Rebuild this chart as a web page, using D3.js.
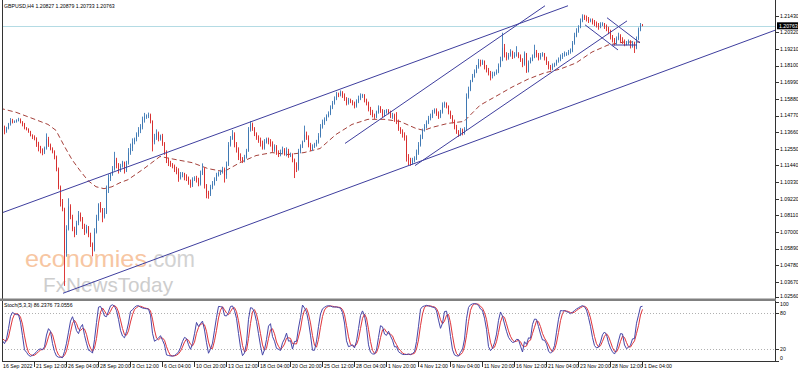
<!DOCTYPE html>
<html><head><meta charset="utf-8">
<script src="https://cdn.jsdelivr.net/npm/d3@7"></script>
<style>body{margin:0;background:#fff}svg{display:block}text{font-family:"Liberation Sans",Arial,sans-serif}</style>
</head><body><svg id="chart" width="798" height="372"></svg>
<script>
var symbolTitle = "GBPUSD,H4  1.20827 1.20879 1.20733 1.20763";
var stochTitle = "Stoch(5,3,3) 86.2376 73.0556";
var firstOpen = 1.1420;
var currentPrice = 1.20763;

var closes = [
1.1412,1.1405,
1.1372,1.1395,1.1420,1.1442,1.1436,1.1437,
1.1445,1.1450,1.1432,1.1420,1.1395,1.1385,
1.1370,1.1345,1.1335,1.1325,1.1290,1.1270,
1.1250,1.1230,1.1260,1.1320,1.1280,1.1255,
1.1235,1.1200,1.1120,1.1000,1.0900,1.0855,
1.0560,1.0720,1.0870,1.0800,1.0720,1.0690,
1.0760,1.0815,1.0790,1.0740,1.0700,1.0733,
1.0680,1.0620,1.0580,1.0700,1.0790,1.0885,
1.0850,1.0800,1.0830,1.0980,1.1060,1.1085,
1.1120,1.1180,1.1150,1.1110,1.1140,1.1165,
1.1110,1.1160,1.1230,1.1260,1.1300,1.1320,
1.1350,1.1380,1.1400,1.1450,1.1470,1.1475,
1.1480,1.1440,1.1300,1.1330,1.1360,1.1320,
1.1340,1.1290,1.1230,1.1180,1.1160,1.1150,
1.1140,1.1120,1.1100,1.1060,1.1080,1.1090,
1.1070,1.1060,1.1030,1.1010,1.1050,1.1060,
1.1050,1.1020,1.1090,1.1120,1.1010,1.0960,
1.0950,1.1000,1.1020,1.1050,1.1080,1.1095,
1.1100,1.1120,1.1080,1.1150,1.1280,1.1320,
1.1350,1.1280,1.1250,1.1200,1.1190,1.1175,
1.1200,1.1240,1.1380,1.1420,1.1390,1.1355,
1.1330,1.1310,1.1290,1.1260,1.1300,1.1320,
1.1300,1.1290,1.1250,1.1270,1.1230,1.1215,
1.1230,1.1250,1.1220,1.1240,1.1210,1.1215,
1.1180,1.1150,1.1120,1.1240,1.1270,1.1300,
1.1350,1.1330,1.1280,1.1250,1.1270,1.1285,
1.1300,1.1340,1.1400,1.1430,1.1450,1.1475,
1.1490,1.1530,1.1560,1.1590,1.1620,1.1615,
1.1630,1.1610,1.1590,1.1560,1.1580,1.1570,
1.1560,1.1540,1.1570,1.1590,1.1610,1.1615,
1.1580,1.1560,1.1520,1.1500,1.1480,1.1470,
1.1500,1.1530,1.1510,1.1480,1.1500,1.1510,
1.1500,1.1470,1.1480,1.1450,1.1440,1.1390,
1.1370,1.1350,1.1330,1.1200,1.1180,1.1160,
1.1180,1.1190,1.1230,1.1280,1.1330,1.1380,
1.1400,1.1430,1.1460,1.1470,1.1500,1.1515,
1.1490,1.1470,1.1500,1.1550,1.1560,1.1540,
1.1500,1.1470,1.1440,1.1400,1.1370,1.1350,
1.1380,1.1360,1.1390,1.1600,1.1650,1.1705,
1.1740,1.1770,1.1800,1.1830,1.1820,1.1840,
1.1800,1.1780,1.1760,1.1740,1.1750,1.1760,
1.1770,1.1810,1.1850,1.1930,1.1880,1.1860,
1.1880,1.1900,1.1870,1.1880,1.1890,1.1870,
1.1850,1.1820,1.1890,1.1770,1.1830,1.1850,
1.1870,1.1900,1.1880,1.1860,1.1880,1.1890,
1.1860,1.1830,1.1800,1.1790,1.1810,1.1820,
1.1840,1.1850,1.1870,1.1880,1.1890,1.1890,
1.1900,1.1910,1.1960,1.2010,1.2040,1.2065,
1.2110,1.2140,1.2130,1.2120,1.2110,1.2115,
1.2100,1.2090,1.2080,1.2070,1.2085,1.2090,
1.2070,1.2060,1.2040,1.2000,1.1980,1.1960,
1.1990,1.2010,1.1980,1.1970,1.1950,1.1960,
1.1970,1.1940,1.1960,1.1930,1.1990,1.2050,
1.2083,1.20763];

var highs = [
1.1432,1.1425,
1.1410,1.1402,1.1428,1.1460,1.1455,1.1445,
1.1452,1.1462,1.1458,1.1440,1.1428,1.1400,
1.1392,1.1375,1.1352,1.1345,1.1332,1.1302,
1.1275,1.1258,1.1270,1.1358,1.1335,1.1290,
1.1265,1.1245,1.1210,1.1130,1.1010,1.0920,
1.0862,1.0745,1.0925,1.0885,1.0815,1.0735,
1.0775,1.0840,1.0830,1.0800,1.0755,1.0748,
1.0740,1.0695,1.0630,1.0725,1.0815,1.0892,
1.0900,1.0860,1.0860,1.1010,1.1085,1.1095,
1.1140,1.1235,1.1195,1.1160,1.1155,1.1175,
1.1170,1.1175,1.1260,1.1290,1.1325,1.1330,
1.1365,1.1400,1.1420,1.1470,1.1495,1.1485,
1.1497,1.1490,1.1445,1.1355,1.1385,1.1370,
1.1350,1.1355,1.1300,1.1245,1.1195,1.1175,
1.1160,1.1150,1.1135,1.1125,1.1100,1.1100,
1.1095,1.1085,1.1070,1.1050,1.1065,1.1072,
1.1075,1.1062,1.1110,1.1158,1.1130,1.1020,
1.0975,1.1015,1.1040,1.1065,1.1095,1.1105,
1.1115,1.1135,1.1130,1.1170,1.1300,1.1340,
1.1380,1.1365,1.1300,1.1265,1.1225,1.1200,
1.1215,1.1255,1.1400,1.1440,1.1430,1.1400,
1.1365,1.1345,1.1330,1.1310,1.1320,1.1330,
1.1330,1.1320,1.1305,1.1285,1.1280,1.1245,
1.1250,1.1270,1.1260,1.1265,1.1255,1.1230,
1.1225,1.1190,1.1165,1.1255,1.1285,1.1310,
1.1410,1.1370,1.1345,1.1295,1.1285,1.1295,
1.1315,1.1360,1.1420,1.1450,1.1465,1.1485,
1.1505,1.1545,1.1575,1.1605,1.1635,1.1630,
1.1645,1.1640,1.1625,1.1600,1.1595,1.1590,
1.1580,1.1570,1.1585,1.1610,1.1625,1.1622,
1.1620,1.1590,1.1570,1.1535,1.1515,1.1490,
1.1510,1.1545,1.1540,1.1520,1.1515,1.1520,
1.1520,1.1510,1.1495,1.1490,1.1500,1.1450,
1.1400,1.1385,1.1365,1.1345,1.1220,1.1195,
1.1195,1.1205,1.1250,1.1300,1.1350,1.1390,
1.1420,1.1445,1.1475,1.1490,1.1515,1.1525,
1.1525,1.1505,1.1515,1.1565,1.1570,1.1565,
1.1545,1.1510,1.1480,1.1450,1.1415,1.1380,
1.1395,1.1390,1.1400,1.1625,1.1670,1.1715,
1.1755,1.1785,1.1815,1.1855,1.1850,1.1850,
1.1845,1.1815,1.1795,1.1775,1.1770,1.1770,
1.1785,1.1825,1.1870,1.2030,1.1955,1.1900,
1.1895,1.1920,1.1910,1.1900,1.1940,1.1900,
1.1885,1.1860,1.1905,1.1895,1.1845,1.1865,
1.1885,1.1950,1.1915,1.1895,1.1895,1.1900,
1.1895,1.1870,1.1840,1.1815,1.1825,1.1830,
1.1850,1.1865,1.1885,1.1895,1.1905,1.1900,
1.1915,1.1925,1.1975,1.2030,1.2060,1.2080,
1.2125,1.2153,1.2150,1.2145,1.2135,1.2125,
1.2125,1.2115,1.2105,1.2095,1.2100,1.2100,
1.2095,1.2085,1.2070,1.2050,1.2015,1.1995,
1.2005,1.2030,1.2020,1.2000,1.1985,1.1975,
1.1985,1.1980,1.1975,1.1970,1.2005,1.2065,
1.2095,1.20879];

var lows = [
1.1398,1.1395,
1.1352,1.1362,1.1385,1.1410,1.1425,1.1428,
1.1430,1.1438,1.1425,1.1405,1.1385,1.1378,
1.1362,1.1338,1.1320,1.1312,1.1268,1.1238,
1.1225,1.1212,1.1220,1.1250,1.1268,1.1245,
1.1225,1.1185,1.1105,1.0985,1.0870,1.0838,
1.0340,1.0535,1.0710,1.0785,1.0705,1.0665,
1.0680,1.0745,1.0770,1.0720,1.0680,1.0690,
1.0665,1.0600,1.0538,1.0570,1.0690,1.0775,
1.0830,1.0765,1.0790,1.0820,1.0960,1.1040,
1.1075,1.1110,1.1125,1.1090,1.1100,1.1130,
1.1090,1.1100,1.1150,1.1215,1.1240,1.1285,
1.1305,1.1335,1.1360,1.1385,1.1430,1.1455,
1.1460,1.1425,1.1238,1.1285,1.1315,1.1305,
1.1310,1.1275,1.1215,1.1160,1.1140,1.1135,
1.1125,1.1100,1.1085,1.1035,1.1050,1.1065,
1.1045,1.1040,1.1015,1.0995,1.1000,1.1040,
1.1030,1.1005,1.1010,1.1080,1.0990,1.0925,
1.0922,1.0940,1.0985,1.1010,1.1040,1.1070,
1.1080,1.1090,1.1030,1.1055,1.1140,1.1270,
1.1315,1.1265,1.1230,1.1180,1.1170,1.1160,
1.1165,1.1190,1.1235,1.1370,1.1375,1.1340,
1.1315,1.1295,1.1270,1.1250,1.1250,1.1290,
1.1285,1.1270,1.1235,1.1235,1.1215,1.1200,
1.1205,1.1220,1.1210,1.1205,1.1195,1.1200,
1.1165,1.1060,1.1100,1.1110,1.1225,1.1260,
1.1300,1.1315,1.1265,1.1240,1.1240,1.1260,
1.1270,1.1290,1.1330,1.1390,1.1415,1.1440,
1.1465,1.1480,1.1520,1.1550,1.1580,1.1600,
1.1605,1.1595,1.1575,1.1545,1.1550,1.1560,
1.1545,1.1525,1.1530,1.1560,1.1580,1.1595,
1.1565,1.1545,1.1505,1.1480,1.1465,1.1455,
1.1460,1.1490,1.1495,1.1465,1.1470,1.1490,
1.1485,1.1460,1.1455,1.1435,1.1420,1.1375,
1.1355,1.1330,1.1310,1.1170,1.1145,1.1142,
1.1150,1.1165,1.1180,1.1215,1.1270,1.1320,
1.1370,1.1390,1.1420,1.1445,1.1460,1.1490,
1.1475,1.1455,1.1460,1.1490,1.1530,1.1525,
1.1485,1.1455,1.1425,1.1385,1.1355,1.1335,
1.1340,1.1345,1.1350,1.1380,1.1590,1.1640,
1.1700,1.1730,1.1760,1.1790,1.1805,1.1815,
1.1785,1.1765,1.1745,1.1712,1.1725,1.1740,
1.1750,1.1760,1.1800,1.1840,1.1865,1.1845,
1.1850,1.1870,1.1855,1.1860,1.1870,1.1860,
1.1835,1.1800,1.1810,1.1762,1.1765,1.1825,
1.1840,1.1860,1.1865,1.1845,1.1850,1.1870,
1.1845,1.1815,1.1785,1.1778,1.1780,1.1800,
1.1810,1.1830,1.1840,1.1855,1.1870,1.1875,
1.1880,1.1890,1.1900,1.1950,1.2000,1.2030,
1.2060,1.2100,1.2115,1.2105,1.2095,1.2100,
1.2085,1.2075,1.2065,1.2050,1.2060,1.2075,
1.2055,1.2040,1.2020,1.1985,1.1965,1.1945,
1.1950,1.1980,1.1965,1.1955,1.1940,1.1945,
1.1950,1.1925,1.1930,1.1895,1.1920,1.1980,
1.2040,1.20733];

var priceTicks = [1.21430,1.20320,1.19210,1.18100,1.16990,1.15880,1.14770,1.13660,1.12550,
  1.11440,1.10330,1.09220,1.08110,1.07000,1.05890,1.04780,1.03670,1.02560];

var dateLabels = ["16 Sep 2022","21 Sep 12:00","26 Sep 04:00","28 Sep 20:00","3 Oct 12:00","6 Oct 04:00",
  "10 Oct 20:00","13 Oct 12:00","18 Oct 04:00","20 Oct 20:00","25 Oct 12:00","28 Oct 04:00",
  "1 Nov 20:00","4 Nov 12:00","9 Nov 04:00","11 Nov 20:00","16 Nov 12:00","21 Nov 04:00",
  "23 Nov 20:00","28 Nov 12:00","1 Dec 04:00"];

var maBars = [0,8,16,24,28,32,36,40,44,48,52,56,60,64,72,80,88,96,104,112,120,128,136,144,152,160,
  168,176,184,192,200,208,212,216,224,232,240,248,256,264,272,280,288,296,304,312,320];
var maValues = [1.1526,1.1499,1.1459,1.1418,1.1378,1.1277,1.1183,1.1110,1.1043,1.1002,1.0989,1.1002,
  1.1029,1.1049,1.1123,1.1204,1.1183,1.1163,1.1123,1.1103,1.1163,1.1210,1.1230,1.1217,1.1230,1.1257,
  1.1351,1.1418,1.1452,1.1452,1.1438,1.1391,1.1378,1.1398,1.1425,1.1438,1.1546,1.1606,1.1667,1.1720,
  1.1761,1.1787,1.1828,1.1901,1.1948,1.1968,1.1968];

// trend lines: [bar, price, bar, price]
var trendLines = [
  [1,1.0828,284,1.2210],
  [31.5,1.0291,388,1.2049],
  [172.5,1.1291,272.5,1.2210],
  [207.5,1.1143,313.5,1.2109],
  [292.5,1.2083,309,1.1915],
  [303.5,1.2130,320,1.1962],
  [306,1.1948,318.5,1.1948]];

var stochTicks = [100,80,20,0];
var stochLevels = [80,20];

var svg = d3.select("#chart");
var x = d3.scaleLinear().domain([0,388]).range([0,776]);
var y = d3.scaleLinear().domain([1.0256,1.2143]).range([298.5,15.8]);
var ys = d3.scaleLinear().domain([0,100]).range([361,301.5]);

var bars = closes.map(function(c,i){
  var o = i === 0 ? firstOpen : closes[i-1];
  return {i:i, o:o, c:c, h:Math.max(highs[i],o,c), l:Math.min(lows[i],o,c)};
});

var t = new Date(2022,8,16,16);
var barTimes = bars.map(function(){
  var cur = t;
  var n = new Date(t.getTime()+4*3600*1000);
  while(n.getDay()===0 || n.getDay()===6) n = new Date(n.getTime()+4*3600*1000);
  t = n;
  return cur;
});
var fmt = d3.timeFormat("%-d %b %H:%M");

var defs = svg.append("defs");
defs.append("clipPath").attr("id","mainClip").append("rect").attr("x",2).attr("y",0).attr("width",774).attr("height",298);
defs.append("clipPath").attr("id","stochClip").append("rect").attr("x",2).attr("y",302).attr("width",774).attr("height",59);

var main = svg.append("g").attr("clip-path","url(#mainClip)");

main.append("text").attr("x",25).attr("y",267).attr("font-size",24).attr("fill","#f7c6a2")
  .attr("textLength",122).attr("lengthAdjust","spacingAndGlyphs").text("economies");
main.append("text").attr("x",147).attr("y",267).attr("font-size",24).attr("fill","#d2d2d2")
  .attr("textLength",48).attr("lengthAdjust","spacingAndGlyphs").text(".com");
main.append("text").attr("x",43).attr("y",292).attr("font-size",21).attr("fill","#cdcdcd")
  .attr("textLength",130).attr("lengthAdjust","spacingAndGlyphs").text("FxNewsToday");

main.append("line").attr("x1",2).attr("x2",776).attr("y1",Math.round(y(currentPrice))+0.5).attr("y2",Math.round(y(currentPrice))+0.5)
  .attr("stroke","#b4dbe4").attr("stroke-width",1);

main.append("path").datum(maBars.map(function(b,k){return [b,maValues[k]];}))
  .attr("fill","none").attr("stroke","#a5413b").attr("stroke-width",1).attr("stroke-dasharray","5,3")
  .attr("d",d3.line().x(function(d){return x(d[0]);}).y(function(d){return y(d[1]);}));

var cg = main.append("g");
cg.selectAll("line.wick").data(bars).enter().append("line").attr("class","wick")
  .attr("x1",function(d){return x(d.i)+0.5;}).attr("x2",function(d){return x(d.i)+0.5;})
  .attr("y1",function(d){return y(d.h);}).attr("y2",function(d){return y(d.l);})
  .attr("stroke",function(d){return d.c>=d.o ? "#4f86bd" : "#de3b3b";}).attr("stroke-width",1);
cg.selectAll("rect.body").data(bars).enter().append("rect").attr("class","body")
  .attr("x",function(d){return x(d.i);}).attr("width",1)
  .attr("y",function(d){return y(Math.max(d.o,d.c));})
  .attr("height",function(d){return Math.max(1,Math.abs(y(d.o)-y(d.c)));})
  .attr("fill",function(d){return d.c>=d.o ? "#3f78b2" : "#d62f2f";});

main.selectAll("line.trend").data(trendLines).enter().append("line").attr("class","trend")
  .attr("x1",function(d){return x(d[0]);}).attr("y1",function(d){return y(d[1]);})
  .attr("x2",function(d){return x(d[2]);}).attr("y2",function(d){return y(d[3]);})
  .attr("stroke","#3e3e9e").attr("stroke-width",1);

svg.append("text").attr("x",4).attr("y",7.5).attr("font-size",5.2).attr("fill","#000").text(symbolTitle);

var kRaw = bars.map(function(d,i){
  var s = Math.max(0,i-4);
  var hh = d3.max(bars.slice(s,i+1),function(e){return e.h;});
  var ll = d3.min(bars.slice(s,i+1),function(e){return e.l;});
  return {num:d.c-ll, den:hh-ll};
});
var stochMain = kRaw.map(function(d,i){
  var w = kRaw.slice(Math.max(0,i-2),i+1);
  var den = d3.sum(w,function(e){return e.den;});
  return den ? 100*d3.sum(w,function(e){return e.num;})/den : 50;
});
var stochSignal = stochMain.map(function(v,i){
  return d3.mean(stochMain.slice(Math.max(0,i-2),i+1));
});

var sg = svg.append("g").attr("clip-path","url(#stochClip)");
sg.selectAll("line.level").data(stochLevels).enter().append("line").attr("class","level")
  .attr("x1",2).attr("x2",776).attr("y1",function(d){return Math.round(ys(d))+0.5;}).attr("y2",function(d){return Math.round(ys(d))+0.5;})
  .attr("stroke","#b0b0b0").attr("stroke-dasharray","1,2");
var sline = d3.line().x(function(d,i){return x(i)+0.5;}).y(function(d){return ys(d);});
sg.append("path").datum(stochSignal).attr("fill","none").attr("stroke","#e0343a").attr("stroke-width",1).attr("d",sline);
sg.append("path").datum(stochMain).attr("fill","none").attr("stroke","#4646a8").attr("stroke-width",1).attr("d",sline);
svg.append("text").attr("x",4).attr("y",307).attr("font-size",5.2).attr("fill","#000").text(stochTitle);

svg.append("line").attr("x1",2.5).attr("x2",2.5).attr("y1",0).attr("y2",361).attr("stroke","#333");
svg.append("line").attr("x1",775.5).attr("x2",775.5).attr("y1",0).attr("y2",361).attr("stroke","#333");
svg.append("rect").attr("x",0).attr("y",298.5).attr("width",776).attr("height",2.5).attr("fill","#808080");
svg.append("line").attr("x1",2).attr("x2",776).attr("y1",361.5).attr("y2",361.5).attr("stroke","#333");

var ax = svg.append("g");
ax.selectAll("line.pt").data(priceTicks).enter().append("line").attr("class","pt")
  .attr("x1",776).attr("x2",779).attr("y1",function(d){return Math.round(Math.min(y(d),297))+0.5;})
  .attr("y2",function(d){return Math.round(Math.min(y(d),297))+0.5;}).attr("stroke","#333");
ax.selectAll("text.pt").data(priceTicks).enter().append("text").attr("class","pt")
  .attr("x",780).attr("y",function(d){return Math.min(y(d),296.5)+1.8;})
  .attr("font-size",5.2).attr("fill","#000").text(function(d){return d.toFixed(5);});

var cy = y(currentPrice);
ax.append("rect").attr("x",777).attr("y",cy-3.5).attr("width",21).attr("height",7).attr("fill","#000");
ax.append("text").attr("x",779).attr("y",cy+1.9).attr("font-size",5.2).attr("fill","#fff").text(currentPrice.toFixed(5));

ax.selectAll("line.st").data(stochTicks).enter().append("line").attr("class","st")
  .attr("x1",776).attr("x2",779).attr("y1",function(d){return Math.round(ys(d))+0.5;}).attr("y2",function(d){return Math.round(ys(d))+0.5;}).attr("stroke","#333");
ax.selectAll("text.st").data(stochTicks).enter().append("text").attr("class","st")
  .attr("x",780).attr("y",function(d){return Math.max(304,Math.min(ys(d),358))+1.8;})
  .attr("font-size",5.2).attr("fill","#000").text(function(d){return d;});

var dateIdx = dateLabels.map(function(lab,k){
  if(k===0) return 0;
  for(var i=0;i<barTimes.length;i++){ if(fmt(barTimes[i])===lab) return i; }
  return -1;
});
dateLabels.forEach(function(lab,k){
  var bi = dateIdx[k];
  if(bi<0) return;
  var px = k===0 ? 3 : x(bi);
  if(k>0) ax.append("line").attr("x1",Math.round(px)+0.5).attr("x2",Math.round(px)+0.5).attr("y1",362).attr("y2",367).attr("stroke","#333");
  ax.append("text").attr("x",k===0 ? px : px+2).attr("y",368).attr("font-size",5.2).attr("fill","#000").text(lab);
});
</script></body></html>
